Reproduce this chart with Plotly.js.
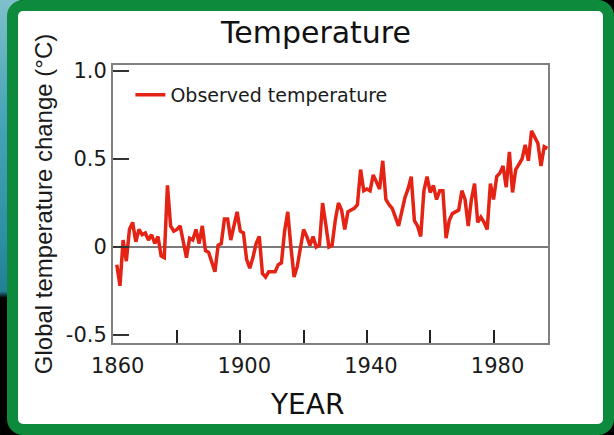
<!DOCTYPE html>
<html>
<head>
<meta charset="utf-8">
<script src="https://cdn.plot.ly/plotly-3.0.1.min.js"></script>
<style>
  html, body { margin: 0; padding: 0; width: 614px; height: 435px; overflow: hidden; background: #000; }
  #leftstrip { position: absolute; left: 0; top: 0; width: 20px; height: 435px;
    background: linear-gradient(to bottom, #7fc0cc 0%, #4aa6b8 25%, #2d8fa4 55%, #237f95 67%, #000 68.5%, #000 100%); }
  #frame { position: absolute; left: 7px; top: 0; width: 607px; height: 435px; box-sizing: border-box;
    border: 11px solid #0e8a3d; border-radius: 16px; background: #fff; }
  #chart { position: absolute; left: 0; top: 0; width: 614px; height: 435px; }
</style>
</head>
<body>
<div id="leftstrip"></div>
<div id="frame"></div>
<div id="chart"></div>
<script>
// Annual global temperature change (°C)
const years = [];
for (let y = 1861; y <= 1997; y++) years.push(y);
const temps = [
  -0.10, -0.22, 0.04, -0.08, 0.10, 0.14, 0.03, 0.10, 0.07, 0.08,   // 1861-1870
   0.04, 0.07, 0.02, 0.06, -0.05, -0.06, 0.35, 0.12, 0.09, 0.10,   // 1871-1880
   0.12, 0.04, -0.06, 0.05, 0.04, 0.10, 0.02, 0.12, -0.02, -0.03,  // 1881-1890
  -0.08, -0.14, 0.01, 0.02, 0.16, 0.16, 0.04, 0.12, 0.20, 0.09,    // 1891-1900
   0.08, -0.07, -0.12, -0.06, 0.02, 0.06, -0.15, -0.17, -0.14, -0.14, // 1901-1910
  -0.14, -0.10, -0.09, 0.09, 0.20, 0.00, -0.17, -0.11, 0.00, 0.10, // 1911-1920
   0.06, 0.01, 0.06, 0.00, 0.01, 0.25, 0.13, 0.00, 0.01, 0.15,     // 1921-1930
   0.25, 0.21, 0.10, 0.20, 0.21, 0.22, 0.24, 0.44, 0.32, 0.33,     // 1931-1940
   0.32, 0.41, 0.37, 0.33, 0.49, 0.27, 0.24, 0.22, 0.17, 0.12,     // 1941-1950
   0.20, 0.28, 0.33, 0.40, 0.15, 0.12, 0.06, 0.32, 0.40, 0.31,     // 1951-1960
   0.35, 0.27, 0.32, 0.32, 0.05, 0.15, 0.19, 0.20, 0.21, 0.32,     // 1961-1970
   0.27, 0.12, 0.27, 0.36, 0.14, 0.17, 0.14, 0.10, 0.36, 0.27,     // 1971-1980
   0.40, 0.42, 0.46, 0.34, 0.54, 0.31, 0.44, 0.47, 0.50, 0.58,     // 1981-1990
   0.49, 0.66, 0.62, 0.59, 0.46, 0.57, 0.56                        // 1991-1997
];
const xTickVals = [1860, 1880, 1900, 1920, 1940, 1960, 1980];
const xTickText = ['1860', '', '1900', '', '1940', '', '1980'];
const yTickVals = [-0.5, 0, 0.5, 1.0];
const yTickText = ['-0.5', '0', '0.5', '1.0'];

const FONT = 'DejaVu Sans, Liberation Sans, Arial, sans-serif';

const trace = {
  x: years, y: temps, type: 'scatter', mode: 'lines',
  name: 'Observed temperature',
  line: { color: '#e52315', width: 3.5 }
};

const layout = {
  width: 614, height: 435,
  margin: { l: 113, r: 66, t: 65, b: 92, pad: 0 },
  paper_bgcolor: 'rgba(0,0,0,0)',
  plot_bgcolor: '#ffffff',
  font: { family: FONT, color: '#1a1a1a', size: 21 },
  title: { text: 'Temperature', x: 316 / 614, xanchor: 'center', xref: 'container',
           y: 0.926, yanchor: 'middle', font: { size: 30, color: '#111', family: FONT } },
  showlegend: true,
  legend: { x: 0.04, y: 0.892, xanchor: 'left', yanchor: 'middle',
            bgcolor: 'rgba(0,0,0,0)', borderwidth: 0,
            font: { size: 19, color: '#1a1a1a', family: FONT } },
  xaxis: {
    range: [1859.8, 1997.2], tickmode: 'array', tickvals: xTickVals, ticktext: xTickText,
    ticks: 'inside', ticklen: 13, tickwidth: 2, tickcolor: '#222',
    showline: true, linecolor: '#808080', linewidth: 2, mirror: true,
    showgrid: false, zeroline: false,
    tickfont: { size: 21, family: FONT, color: '#1a1a1a' },
    ticklabelshift: 4, ticklabelstandoff: 3
  },
  yaxis: {
    range: [-0.545, 1.034], tickmode: 'array', tickvals: yTickVals, ticktext: yTickText,
    ticks: 'inside', ticklen: 16, tickwidth: 2, tickcolor: '#333',
    showline: true, linecolor: '#808080', linewidth: 2, mirror: true,
    showgrid: false, zeroline: true, zerolinecolor: '#7a7a7a', zerolinewidth: 2.5,
    tickfont: { size: 21, family: FONT, color: '#1a1a1a' },
    title: { text: 'Global temperature change (°C)', standoff: 6,
             font: { size: 24, family: 'Liberation Sans, Arial, sans-serif', color: '#1a1a1a' } }
  },
  annotations: [{
    text: 'YEAR', xref: 'paper', yref: 'paper', x: (307 - 113) / 435, y: (343 - 404) / 278,
    xanchor: 'center', yanchor: 'middle', showarrow: false,
    font: { size: 28, family: FONT, color: '#111' }
  }]
};

Plotly.newPlot('chart', [trace], layout, { staticPlot: true, displayModeBar: false });
</script>
</body>
</html>
